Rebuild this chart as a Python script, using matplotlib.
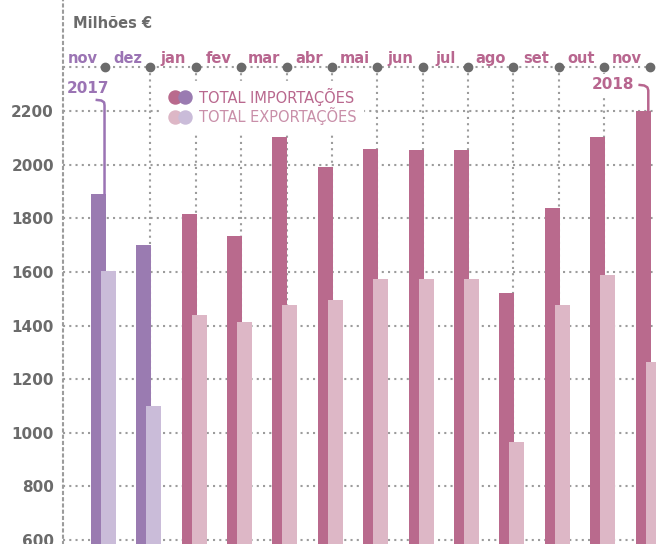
import numpy as np
import matplotlib.pyplot as plt
from matplotlib.lines import Line2D
from matplotlib.legend_handler import HandlerTuple

# dados (milhoes de euros)
meses = ['nov', 'dez', 'jan', 'fev', 'mar', 'abr', 'mai', 'jun', 'jul', 'ago', 'set', 'out', 'nov']
anos = [2017, 2017, 2018, 2018, 2018, 2018, 2018, 2018, 2018, 2018, 2018, 2018, 2018]
importacoes = [1890, 1700, 1815, 1735, 2105, 1990, 2060, 2055, 2055, 1520, 1840, 2105, 2200]
exportacoes = [1605, 1100, 1440, 1415, 1475, 1495, 1575, 1575, 1575, 965, 1475, 1590, 1265]
yticks = [600, 800, 1000, 1200, 1400, 1600, 1800, 2000, 2200]

# cores
imp17 = '#9a7bb1'
exp17 = '#cabcd9'
imp18 = '#b96a8d'
exp18 = '#ddb7c6'
lab17 = '#9b74b4'
lab18 = '#b8668f'
cinza = '#6b6b6b'
grelha = '#9c9c9c'
pontilhado = (0, (1, 2))

fig = plt.figure(figsize=(6.56, 5.44), dpi=100)
ax = fig.add_axes([63/656, 0, 593/656, 1])
x = np.arange(len(meses))
x0, x1 = -0.925, 12.14
y0, y1 = 585, 2615
ytopo = 2365
ax.set_xlim(x0, x1)
ax.set_ylim(y0, y1)

# grelha pontilhada
ax.hlines(yticks, x0, x1, colors=grelha, linestyles=pontilhado, lw=1.5, zorder=1)
ax.vlines(x[1:-1], y0, ytopo, colors=grelha, linestyles=pontilhado, lw=1.5, zorder=1)
ax.hlines(ytopo, x0, x1, colors=grelha, linestyles=pontilhado, lw=1.5, zorder=1)
ax.plot(x, [ytopo]*len(x), 'o', ms=6, color=cinza, zorder=3, clip_on=False)

# barras
ci = [imp17 if a == 2017 else imp18 for a in anos]
ce = [exp17 if a == 2017 else exp18 for a in anos]
ax.bar(x - 0.145, importacoes, 0.33, color=ci, zorder=2)
ax.bar(x + 0.075, exportacoes, 0.33, color=ce, zorder=2.5)

# meses
for i in range(len(meses)):
    c = lab17 if anos[i] == 2017 else lab18
    ax.text(x[i] - 0.5, 2380, meses[i], ha='center', va='baseline',
            fontsize=10.5, fontweight='bold', color=c)

# anos com marcador
ax.text(x[0] - 0.374, 2285, '2017', ha='center', va='center', fontsize=11,
        fontweight='bold', color=lab17, zorder=4,
        bbox=dict(facecolor='white', edgecolor='none', pad=1))
ax.plot([x[0] - 0.18, x[0] - 0.08, x[0] - 0.02, x[0] - 0.01, x[0] - 0.01],
        [2242, 2240, 2233, 2222, importacoes[0]], color=lab17, lw=1.8, zorder=4)
ax.text(x[-1] - 0.81, 2301, '2018', ha='center', va='center', fontsize=11,
        fontweight='bold', color=lab18, zorder=4,
        bbox=dict(facecolor='white', edgecolor='none', pad=2))
ax.plot([x[-1] - 0.22, x[-1] - 0.12, x[-1] - 0.05, x[-1] - 0.03, x[-1] - 0.03],
        [2298, 2296, 2289, 2278, importacoes[-1]], color=lab18, lw=1.8, zorder=4)

# eixo y
ax.set_xticks([])
ax.set_yticks(yticks)
ax.tick_params(axis='y', length=0, pad=6.5, labelsize=11, labelcolor=cinza)
for t in ax.get_yticklabels():
    t.set_fontweight('bold')
for s in ['top', 'right', 'bottom']:
    ax.spines[s].set_visible(False)
ax.spines['left'].set_linestyle(pontilhado)
ax.spines['left'].set_linewidth(1.5)
ax.spines['left'].set_color(grelha)

fig.text(73/656, 1 - 24/544, 'Milhões €', va='center', ha='left',
         fontsize=10.5, fontweight='bold', color=cinza)

# legenda
h1 = (Line2D([], [], marker='o', ls='', ms=9.4, color=imp18),
      Line2D([], [], marker='o', ls='', ms=9.4, color=imp17))
h2 = (Line2D([], [], marker='o', ls='', ms=9.4, color=exp18),
      Line2D([], [], marker='o', ls='', ms=9.4, color=exp17))
leg = ax.legend([h1, h2], ['TOTAL IMPORTAÇÕES', 'TOTAL EXPORTAÇÕES'],
                handler_map={tuple: HandlerTuple(ndivide=None, pad=0)},
                loc='upper left', bbox_to_anchor=(163/656, 1 - 81/544),
                bbox_transform=fig.transFigure, fontsize=10.5, handlelength=1.4,
                handletextpad=0.6, labelspacing=0.13, borderpad=0.45,
                borderaxespad=0, fancybox=False, framealpha=1)
leg.get_frame().set_edgecolor('white')
leg.set_zorder(5)
leg.get_texts()[0].set_color('#b9688e')
leg.get_texts()[1].set_color('#c98fa9')

fig.savefig('out.png', dpi=100)
